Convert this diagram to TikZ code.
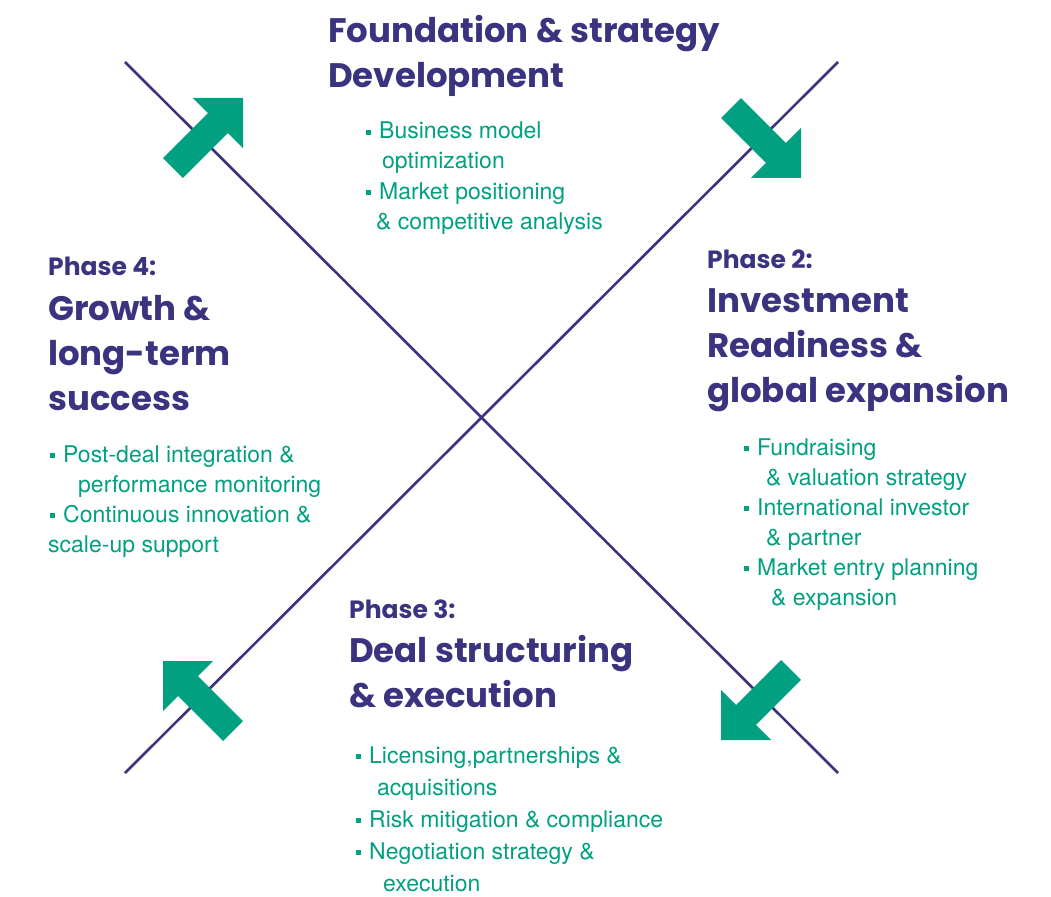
\documentclass[tikz,border=0pt]{standalone}
\usepackage{fontspec}
\setmainfont{TeX Gyre Heros}
\newfontfamily\headfont{Poppins}
\usepackage{xcolor}
\definecolor{navy}{RGB}{58,52,128}
\definecolor{phasegreen}{RGB}{0,160,128}
\newcommand{\sqbullet}{\raisebox{4pt}{\rule{5pt}{5pt}}\hspace{8pt}}

\begin{document}
\begin{tikzpicture}[x=1pt,y=-1pt,
    heading/.style={anchor=base west,inner sep=0pt,align=left,text=navy,font=\headfont\bfseries\fontsize{34}{45}\selectfont},
    phaselabel/.style={anchor=base west,inner sep=0pt,text=navy,font=\headfont\bfseries\fontsize{25}{30}\selectfont},
    bullets/.style={anchor=base west,inner sep=0pt,align=left,text=phasegreen,font=\fontsize{23}{30}\selectfont},
    bigarrow/.pic={\fill[phasegreen] (0,0) -- (-35.4,35.4) -- (-35.4,14) -- (-99,14) -- (-99,-14) -- (-35.4,-14) -- (-35.4,-35.4) -- cycle;}]
    \useasboundingbox (0,0) rectangle (1051,896);

    % the cross
    \coordinate (nw) at (125,62);
    \coordinate (se) at (838,773);
    \coordinate (ne) at (838,62);
    \coordinate (sw) at (125,773);
    \draw[navy,line width=2.6pt] (nw) -- (se);
    \draw[navy,line width=2.6pt] (ne) -- (sw);

    \pic[rotate=45] at (243,98) {bigarrow};
    \pic[rotate=-45] at (801,178) {bigarrow};
    \pic[rotate=-135] at (721,740) {bigarrow};
    \pic[rotate=135] at (163,661) {bigarrow};

    % phase 1 (anchors sit on the last baseline)
    \node[heading] (title1) at (328,88) {Foundation \& strategy\\Development};
    \node[bullets] (list1) at (366,229) {\sqbullet Business model\\\hspace*{16pt}optimization\\\sqbullet Market positioning\\\hspace*{10pt}\& competitive analysis};

    % phase 2
    \node[phaselabel] (phase2) at (707,268) {Phase 2:};
    \node[heading] (title2) at (707,402) {Investment\\Readiness \&\\global expansion};
    \node[bullets] (list2) at (744,605) {\sqbullet Fundraising\\\hspace*{22pt}\& valuation strategy\\\sqbullet International investor\\\hspace*{22pt}\& partner\\\sqbullet Market entry planning\\\hspace*{27pt}\& expansion};

    % phase 3
    \node[phaselabel] (phase3) at (349,618) {Phase 3:};
    \node[heading] (title3) at (349,707) {Deal structuring\\\& execution};
    \node[bullets,font=\fontsize{23}{32}\selectfont] (list3) at (356,891) {\sqbullet Licensing,partnerships \&\\\hspace*{21pt}acquisitions\\\sqbullet Risk mitigation \& compliance\\\sqbullet Negotiation strategy \&\\\hspace*{27pt}execution};

    % phase 4
    \node[phaselabel] (phase4) at (48,275) {Phase 4:};
    \node[heading] (title4) at (48,410) {Growth \&\\long-term\\success};
    \node[bullets] (list4) at (50,552) {\sqbullet Post-deal integration \&\\\hspace*{28pt}performance monitoring\\\sqbullet Continuous innovation \&\\\hspace*{-2pt}scale-up support};
\end{tikzpicture}
\end{document}
